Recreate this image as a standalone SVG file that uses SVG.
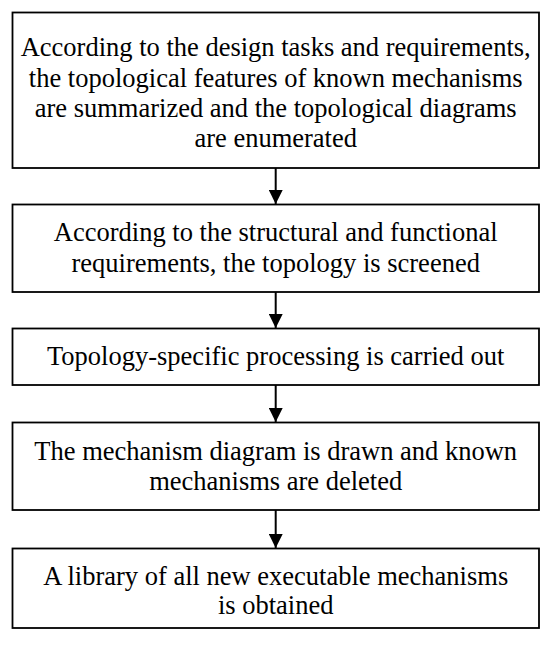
<svg xmlns="http://www.w3.org/2000/svg" width="547" height="651" viewBox="0 0 547 651">
<defs>
<style>
.box{fill:#fff;stroke:#000;stroke-width:1.8}
.t{font-family:'Liberation Serif','Times New Roman',Times,serif;font-size:26.5px;fill:#000;text-anchor:middle}
.c{stroke:#000;stroke-width:2;fill:none}
</style>
<marker id="ah" markerWidth="14" markerHeight="14" viewBox="0 0 14 14" refX="14" refY="7" orient="auto" markerUnits="userSpaceOnUse">
<path d="M0,0 L14,7 L0,14 Z" fill="#000"/>
</marker>
</defs>
<rect width="547" height="651" fill="#fff"/>
<g id="n1">
<rect class="box" x="12.5" y="12.5" width="526.5" height="155.5"/>
<text class="t" x="275.7" y="56">According to the design tasks and requirements,</text>
<text class="t" x="275.7" y="86.5">the topological features of known mechanisms</text>
<text class="t" x="275.7" y="117">are summarized and the topological diagrams</text>
<text class="t" x="275.7" y="147">are enumerated</text>
</g>
<g id="n2">
<rect class="box" x="12.5" y="204.5" width="526.5" height="87.5"/>
<text class="t" x="275.7" y="240.5">According to the structural and functional</text>
<text class="t" x="275.7" y="271.5">requirements, the topology is screened</text>
</g>
<g id="n3">
<rect class="box" x="12.5" y="328.5" width="526.5" height="56.5"/>
<text class="t" x="275.7" y="365">Topology-specific processing is carried out</text>
</g>
<g id="n4">
<rect class="box" x="12.5" y="422.5" width="526.5" height="87.5"/>
<text class="t" x="275.7" y="460">The mechanism diagram is drawn and known</text>
<text class="t" x="275.7" y="490">mechanisms are deleted</text>
</g>
<g id="n5">
<rect class="box" x="12.5" y="548.5" width="526.5" height="79.5"/>
<text class="t" x="275.7" y="585">A library of all new executable mechanisms</text>
<text class="t" x="275.7" y="614">is obtained</text>
</g>
<g id="connectors">
<line class="c" x1="275.7" y1="168" x2="275.7" y2="204" marker-end="url(#ah)"/>
<line class="c" x1="275.7" y1="292" x2="275.7" y2="328" marker-end="url(#ah)"/>
<line class="c" x1="275.7" y1="385" x2="275.7" y2="422" marker-end="url(#ah)"/>
<line class="c" x1="275.7" y1="510" x2="275.7" y2="548" marker-end="url(#ah)"/>
</g>
</svg>
